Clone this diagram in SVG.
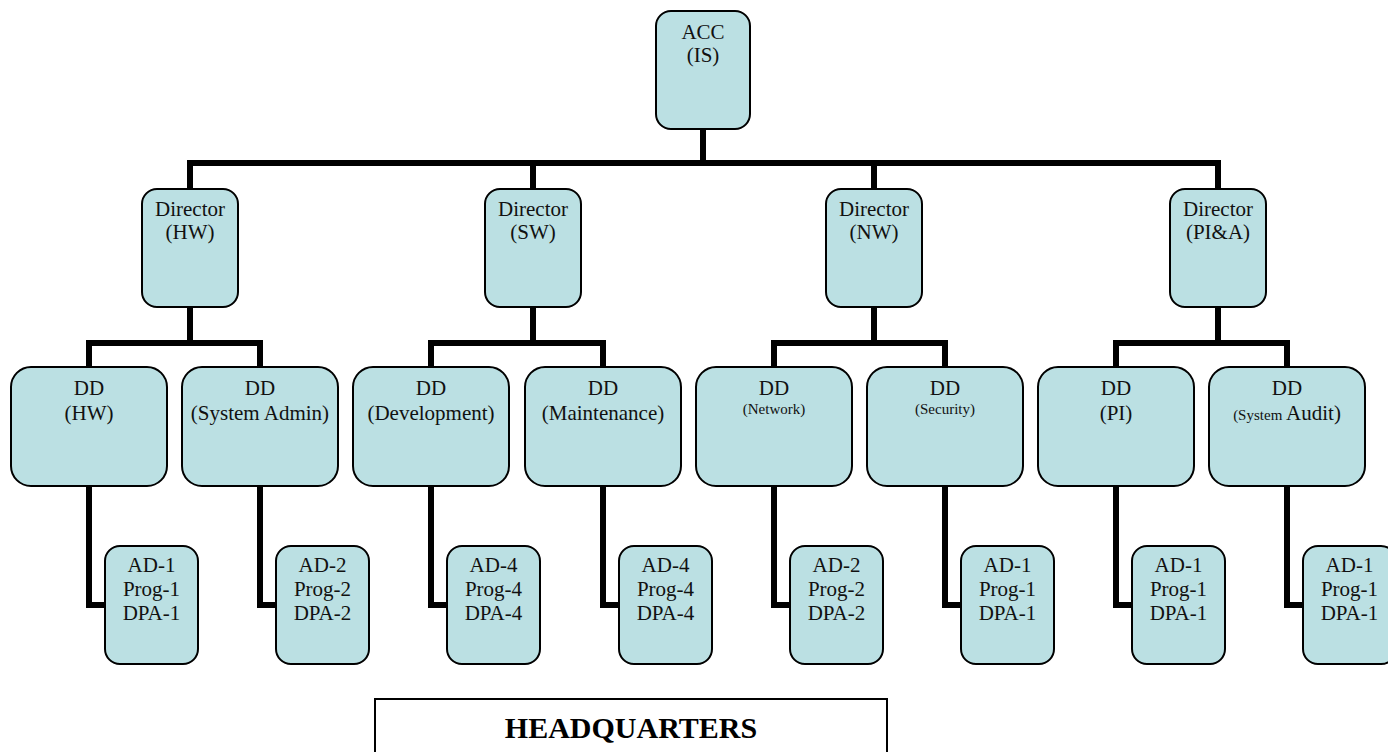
<svg xmlns="http://www.w3.org/2000/svg" width="1388" height="752" viewBox="0 0 1388 752">
<style>
.box{fill:#bbe0e3;stroke:#000;stroke-width:2}
.t{font-family:"Liberation Serif","Times New Roman",serif;font-size:21px;fill:#111;text-anchor:middle}
.s{font-size:15px}
.c{fill:none;stroke:#000;stroke-width:6;stroke-linejoin:miter;stroke-linecap:butt}
.hq{font-family:"Liberation Serif","Times New Roman",serif;font-size:30px;font-weight:bold;text-anchor:middle;fill:#000}
</style>
<rect width="1388" height="752" fill="#fff"/>
<g id="connectors">
<path class="c" d="M703 129V163M190 163H1218M190 160V189M533 160V189M874 160V189M1218 160V189"/>
<path class="c" d="M190 307V343M89 343H260M89 340V367M260 340V367"/>
<path class="c" d="M533 307V343M431 343H603M431 340V367M603 340V367"/>
<path class="c" d="M874 307V343M774 343H945M774 340V367M945 340V367"/>
<path class="c" d="M1218 307V343M1116 343H1287M1116 340V367M1287 340V367"/>
<path class="c" d="M89 486V605H105M260 486V605H276M431 486V605H447M603 486V605H619M774 486V605H790M945 486V605H961M1116 486V605H1132M1287 486V605H1303"/>
</g>
<g id="acc"><rect class="box" x="656" y="11" width="94" height="118" rx="15"/><text class="t" x="703" y="39">ACC</text><text class="t" x="703" y="62">(IS)</text></g>
<g id="dir-hw"><rect class="box" x="142" y="189" width="96" height="118" rx="15"/><text class="t" x="190" y="216">Director</text><text class="t" x="190" y="239">(HW)</text></g>
<g id="dir-sw"><rect class="box" x="485" y="189" width="96" height="118" rx="15"/><text class="t" x="533" y="216">Director</text><text class="t" x="533" y="239">(SW)</text></g>
<g id="dir-nw"><rect class="box" x="826" y="189" width="96" height="118" rx="15"/><text class="t" x="874" y="216">Director</text><text class="t" x="874" y="239">(NW)</text></g>
<g id="dir-pia"><rect class="box" x="1170" y="189" width="96" height="118" rx="15"/><text class="t" x="1218" y="216">Director</text><text class="t" x="1218" y="239">(PI&amp;A)</text></g>
<g id="dd-hw"><rect class="box" x="11" y="367" width="156" height="119" rx="20"/><text class="t" x="89" y="395">DD</text><text class="t" x="89" y="420">(HW)</text></g>
<g id="dd-sysadmin"><rect class="box" x="182" y="367" width="156" height="119" rx="20"/><text class="t" x="260" y="395">DD</text><text class="t" x="260" y="420">(System Admin)</text></g>
<g id="dd-dev"><rect class="box" x="353" y="367" width="156" height="119" rx="20"/><text class="t" x="431" y="395">DD</text><text class="t" x="431" y="420">(Development)</text></g>
<g id="dd-maint"><rect class="box" x="525" y="367" width="156" height="119" rx="20"/><text class="t" x="603" y="395">DD</text><text class="t" x="603" y="420">(Maintenance)</text></g>
<g id="dd-network"><rect class="box" x="696" y="367" width="156" height="119" rx="20"/><text class="t" x="774" y="395">DD</text><text class="t s" x="774" y="414">(Network)</text></g>
<g id="dd-security"><rect class="box" x="867" y="367" width="156" height="119" rx="20"/><text class="t" x="945" y="395">DD</text><text class="t s" x="945" y="414">(Security)</text></g>
<g id="dd-pi"><rect class="box" x="1038" y="367" width="156" height="119" rx="20"/><text class="t" x="1116" y="395">DD</text><text class="t" x="1116" y="420">(PI)</text></g>
<g id="dd-audit"><rect class="box" x="1209" y="367" width="156" height="119" rx="20"/><text class="t" x="1287" y="420"><tspan class="s">(System </tspan>Audit)</text><text class="t" x="1287" y="395">DD</text></g>
<g id="ad-1"><rect class="box" x="105" y="546" width="93" height="118" rx="15"/><text class="t" x="151.5" y="572">AD-1</text><text class="t" x="151.5" y="596">Prog-1</text><text class="t" x="151.5" y="620">DPA-1</text></g>
<g id="ad-2"><rect class="box" x="276" y="546" width="93" height="118" rx="15"/><text class="t" x="322.5" y="572">AD-2</text><text class="t" x="322.5" y="596">Prog-2</text><text class="t" x="322.5" y="620">DPA-2</text></g>
<g id="ad-3"><rect class="box" x="447" y="546" width="93" height="118" rx="15"/><text class="t" x="493.5" y="572">AD-4</text><text class="t" x="493.5" y="596">Prog-4</text><text class="t" x="493.5" y="620">DPA-4</text></g>
<g id="ad-4"><rect class="box" x="619" y="546" width="93" height="118" rx="15"/><text class="t" x="665.5" y="572">AD-4</text><text class="t" x="665.5" y="596">Prog-4</text><text class="t" x="665.5" y="620">DPA-4</text></g>
<g id="ad-5"><rect class="box" x="790" y="546" width="93" height="118" rx="15"/><text class="t" x="836.5" y="572">AD-2</text><text class="t" x="836.5" y="596">Prog-2</text><text class="t" x="836.5" y="620">DPA-2</text></g>
<g id="ad-6"><rect class="box" x="961" y="546" width="93" height="118" rx="15"/><text class="t" x="1007.5" y="572">AD-1</text><text class="t" x="1007.5" y="596">Prog-1</text><text class="t" x="1007.5" y="620">DPA-1</text></g>
<g id="ad-7"><rect class="box" x="1132" y="546" width="93" height="118" rx="15"/><text class="t" x="1178.5" y="572">AD-1</text><text class="t" x="1178.5" y="596">Prog-1</text><text class="t" x="1178.5" y="620">DPA-1</text></g>
<g id="ad-8"><rect class="box" x="1303" y="546" width="93" height="118" rx="15"/><text class="t" x="1349.5" y="572">AD-1</text><text class="t" x="1349.5" y="596">Prog-1</text><text class="t" x="1349.5" y="620">DPA-1</text></g>
<g id="headquarters"><rect x="375" y="699" width="512" height="70" fill="#fff" stroke="#000" stroke-width="2"/><text class="hq" x="631" y="738">HEADQUARTERS</text></g>
</svg>
